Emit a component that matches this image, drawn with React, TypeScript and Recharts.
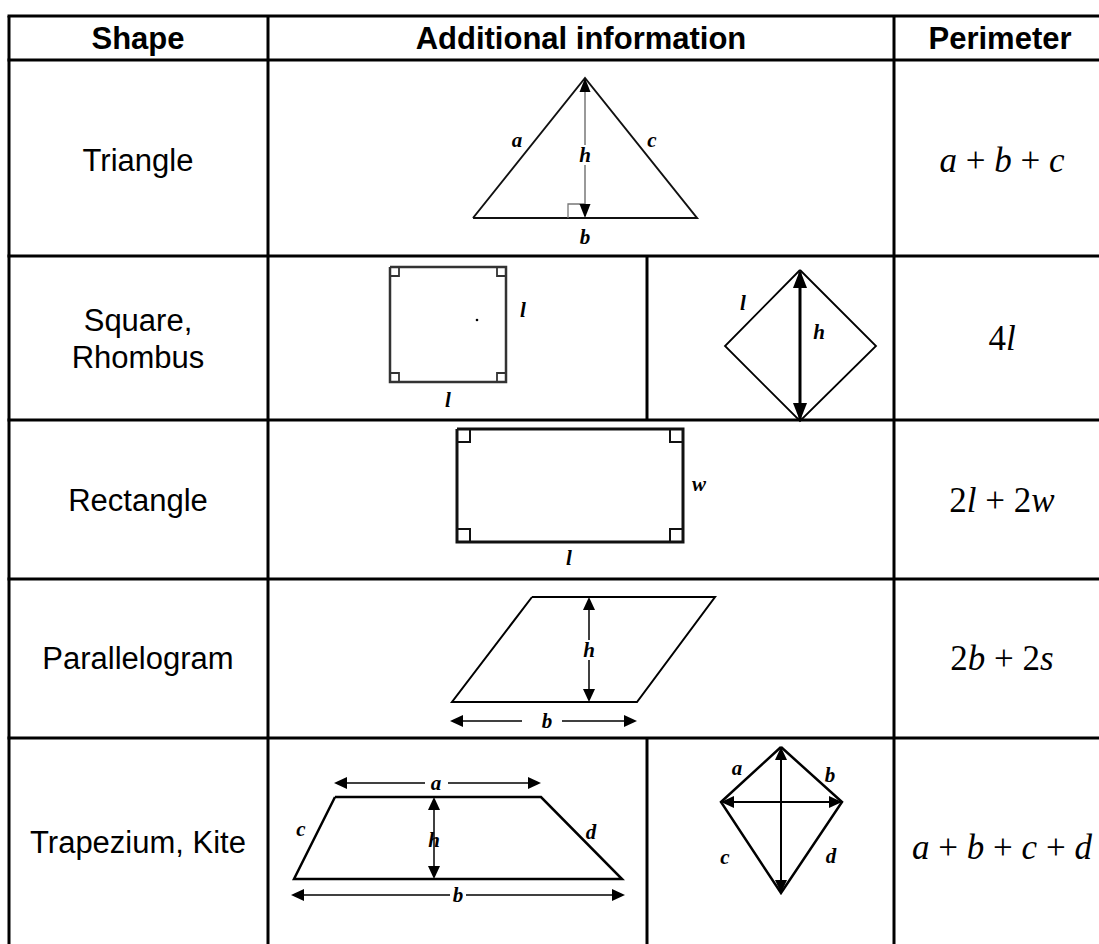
import { ComposedChart, XAxis, YAxis, Line, Scatter, ReferenceLine } from "recharts";

const W = 1099;
const H = 944;

// table rules (page units, y grows downwards)
const rowLines = [16, 60, 256, 420, 579, 738];
const colLines = [9, 268, 894];
const splitX = 647;
const splitSpans = [
  [256, 420],
  [738, 944],
];

const headers = [
  { x: 138, y: 38, text: "Shape" },
  { x: 581, y: 38, text: "Additional information" },
  { x: 1000, y: 38, text: "Perimeter" },
];

const shapeNames = [
  { x: 138, y: 160, text: "Triangle" },
  { x: 138, y: 320, text: "Square," },
  { x: 138, y: 357, text: "Rhombus" },
  { x: 138, y: 500, text: "Rectangle" },
  { x: 138, y: 658, text: "Parallelogram" },
  { x: 138, y: 842, text: "Trapezium, Kite" },
];

const perimeters = [
  { x: 1002, y: 160, text: "a + b + c" },
  { x: 1002, y: 338, text: "4l" },
  { x: 1002, y: 500, text: "2l + 2w" },
  { x: 1002, y: 658, text: "2b + 2s" },
  { x: 1002, y: 847, text: "a + b + c + d" },
];

type P = [number, number];

// triangle
const triOutline: P[] = [[473, 218], [585, 78], [697, 218], [473, 218]];
const triAltitude: P[][] = [[[585, 80], [585, 145]], [[585, 165], [585, 216]]];
const triRightAngle: P[] = [[568, 218], [568, 204], [585, 204]];
const triTips = [[585, 78, -90], [585, 218, 90]];
const triVars = [["a", 517, 140], ["c", 652, 140], ["h", 585, 155], ["b", 585, 237]];

// square
const sqOutline: P[] = [[390, 267], [506, 267], [506, 382], [390, 382], [390, 267]];
const sqCorners: P[][] = [
  [[390, 276], [399, 276], [399, 267]],
  [[497, 267], [497, 276], [506, 276]],
  [[390, 373], [399, 373], [399, 382]],
  [[497, 382], [497, 373], [506, 373]],
];
const sqDot = [[477, 320]];
const sqVars = [["l", 523, 310], ["l", 448, 400]];

// rhombus
const rhOutline: P[] = [[800, 270], [876, 346], [800, 421], [725, 346], [800, 270]];
const rhHeight: P[] = [[800, 272], [800, 419]];
const rhTips = [[800, 270, -90], [800, 421, 90]];
const rhVars = [["l", 743, 303], ["h", 819, 332]];

// rectangle
const rectOutline: P[] = [[457, 429], [683, 429], [683, 542], [457, 542], [457, 429]];
const rectCorners: P[][] = [
  [[457, 442], [470, 442], [470, 429]],
  [[670, 429], [670, 442], [683, 442]],
  [[457, 529], [470, 529], [470, 542]],
  [[670, 542], [670, 529], [683, 529]],
];
const rectVars = [["w", 699, 484], ["l", 569, 558]];

// parallelogram
const parOutline: P[] = [[532, 597], [715, 597], [637, 702], [452, 702], [532, 597]];
const parArrows: P[][] = [
  [[589, 599], [589, 640]],
  [[589, 660], [589, 700]],
  [[452, 721], [522, 721]],
  [[562, 721], [635, 721]],
];
const parTips = [[589, 597, -90], [589, 702, 90], [450, 721, 180], [637, 721, 0]];
const parVars = [["h", 589, 650], ["b", 547, 721]];

// trapezium
const trapOutline: P[] = [[335, 797], [541, 797], [622, 879], [294, 879], [335, 797]];
const trapArrows: P[][] = [
  [[336, 783], [425, 783]],
  [[448, 783], [539, 783]],
  [[434, 799], [434, 877]],
  [[293, 895], [450, 895]],
  [[466, 895], [623, 895]],
];
const trapTips = [[334, 783, 180], [541, 783, 0], [434, 797, -90], [434, 879, 90], [291, 895, 180], [625, 895, 0]];
const trapVars = [["a", 436, 783], ["h", 434, 840], ["b", 458, 895], ["c", 301, 829], ["d", 591, 832]];

// kite
const kiteOutline: P[] = [[781, 747], [842, 802], [781, 893], [721, 802], [781, 747]];
const kiteArrows: P[][] = [
  [[781, 749], [781, 891]],
  [[723, 802], [840, 802]],
];
const kiteTips = [[781, 747, -90], [781, 893, 90], [721, 802, 180], [842, 802, 0]];
const kiteVars = [["a", 737, 768], ["b", 830, 775], ["c", 725, 857], ["d", 831, 856]];

const toPts = (arr: P[]) => arr.map(([x, y]) => ({ x, y }));
const toTips = (arr: number[][]) => arr.map(([x, y, angle]) => ({ x, y, angle }));
const toVars = (arr: (string | number)[][]) =>
  arr.map(([text, x, y]) => ({ text, x, y }));

let lineKey = 0;
const stroke = (arr: P[], width: number, color = "#000") => (
  <Line
    key={`ln-${lineKey++}`}
    data={toPts(arr)}
    dataKey="y"
    type="linear"
    stroke={color}
    strokeWidth={width}
    strokeLinejoin="miter"
    dot={false}
    activeDot={false}
    legendType="none"
    isAnimationActive={false}
  />
);

const arrowHead = (len: number, wid: number) => (props: any) => {
  const { cx, cy, payload } = props;
  return (
    <polygon
      points={`0,0 ${-len},${-wid / 2} ${-len},${wid / 2}`}
      transform={`translate(${cx},${cy}) rotate(${payload.angle})`}
      fill="#000"
    />
  );
};

const renderVar = (props: any) => (
  <text
    x={props.cx}
    y={props.cy}
    textAnchor="middle"
    dominantBaseline="central"
    fontFamily="'Liberation Serif', 'Times New Roman', serif"
    fontStyle="italic"
    fontWeight="bold"
    fontSize={21}
    fill="#000"
  >
    {props.payload.text}
  </text>
);

const renderName = (bold: boolean) => (props: any) => (
  <text
    x={props.cx}
    y={props.cy}
    textAnchor="middle"
    dominantBaseline="central"
    fontFamily="'Liberation Sans', Arial, sans-serif"
    fontWeight={bold ? "bold" : "normal"}
    fontSize={31}
    fill="#000"
  >
    {props.payload.text}
  </text>
);

const renderFormula = (props: any) => (
  <text
    x={props.cx}
    y={props.cy}
    textAnchor="middle"
    dominantBaseline="central"
    fontFamily="'Liberation Serif', 'Times New Roman', serif"
    fontSize={35}
    fill="#000"
    style={{ whiteSpace: "pre" }}
  >
    {String(props.payload.text)
      .split("")
      .map((ch, i) => (
        <tspan key={i} fontStyle={/[a-z]/.test(ch) ? "italic" : "normal"}>
          {ch}
        </tspan>
      ))}
  </text>
);

const renderDot = (props: any) => <circle cx={props.cx} cy={props.cy} r={1.3} fill="#000" />;

export default function App() {
  const rules = [
    ...rowLines.map((y) => [[colLines[0] - 1.5, y], [W, y]]),
    ...colLines.map((x) => [[x, rowLines[0]], [x, H]]),
    ...splitSpans.map(([y1, y2]) => [[splitX, y1], [splitX, y2]]),
  ];

  const smallHead = arrowHead(13, 12);
  const thinHead = arrowHead(14, 11);
  const bigHead = arrowHead(18, 14);

  return (
    <div style={{ position: "absolute", left: 0, top: 0, width: W, height: H, background: "#fff" }}>
      <ComposedChart width={W} height={H} margin={{ top: 0, right: 0, bottom: 0, left: 0 }}>
        <XAxis type="number" dataKey="x" domain={[0, W]} hide allowDataOverflow />
        <YAxis type="number" dataKey="y" domain={[0, H]} reversed hide allowDataOverflow />

        {rules.map((seg, i) => (
          <ReferenceLine
            key={`rule-${i}`}
            segment={[
              { x: seg[0][0], y: seg[0][1] },
              { x: seg[1][0], y: seg[1][1] },
            ]}
            stroke="#000"
            strokeWidth={3}
            ifOverflow="visible"
          />
        ))}

        {/* triangle */}
        {stroke(triOutline, 2, "#111")}
        {triAltitude.map((s) => stroke(s, 1.5, "#777"))}
        {stroke(triRightAngle, 1.3, "#777")}
        <Scatter data={toTips(triTips)} shape={thinHead} isAnimationActive={false} />
        <Scatter data={toVars(triVars)} shape={renderVar} isAnimationActive={false} />

        {/* square */}
        {stroke(sqOutline, 2.5, "#333")}
        {sqCorners.map((s) => stroke(s, 1.8, "#333"))}
        <Scatter data={toPts(sqDot as P[])} shape={renderDot} isAnimationActive={false} />
        <Scatter data={toVars(sqVars)} shape={renderVar} isAnimationActive={false} />

        {/* rhombus */}
        {stroke(rhOutline, 1.8)}
        {stroke(rhHeight, 3)}
        <Scatter data={toTips(rhTips)} shape={bigHead} isAnimationActive={false} />
        <Scatter data={toVars(rhVars)} shape={renderVar} isAnimationActive={false} />

        {/* rectangle */}
        {stroke(rectOutline, 3, "#111")}
        {rectCorners.map((s) => stroke(s, 2, "#111"))}
        <Scatter data={toVars(rectVars)} shape={renderVar} isAnimationActive={false} />

        {/* parallelogram */}
        {stroke(parOutline, 2)}
        {parArrows.map((s) => stroke(s, 1.5))}
        <Scatter data={toTips(parTips)} shape={smallHead} isAnimationActive={false} />
        <Scatter data={toVars(parVars)} shape={renderVar} isAnimationActive={false} />

        {/* trapezium */}
        {stroke(trapOutline, 2.5)}
        {trapArrows.map((s) => stroke(s, 1.5))}
        <Scatter data={toTips(trapTips)} shape={smallHead} isAnimationActive={false} />
        <Scatter data={toVars(trapVars)} shape={renderVar} isAnimationActive={false} />

        {/* kite */}
        {stroke(kiteOutline, 2.5)}
        {kiteArrows.map((s) => stroke(s, 2))}
        <Scatter data={toTips(kiteTips)} shape={smallHead} isAnimationActive={false} />
        <Scatter data={toVars(kiteVars)} shape={renderVar} isAnimationActive={false} />

        {/* text columns */}
        <Scatter data={headers} shape={renderName(true)} isAnimationActive={false} />
        <Scatter data={shapeNames} shape={renderName(false)} isAnimationActive={false} />
        <Scatter data={perimeters} shape={renderFormula} isAnimationActive={false} />
      </ComposedChart>
    </div>
  );
}
